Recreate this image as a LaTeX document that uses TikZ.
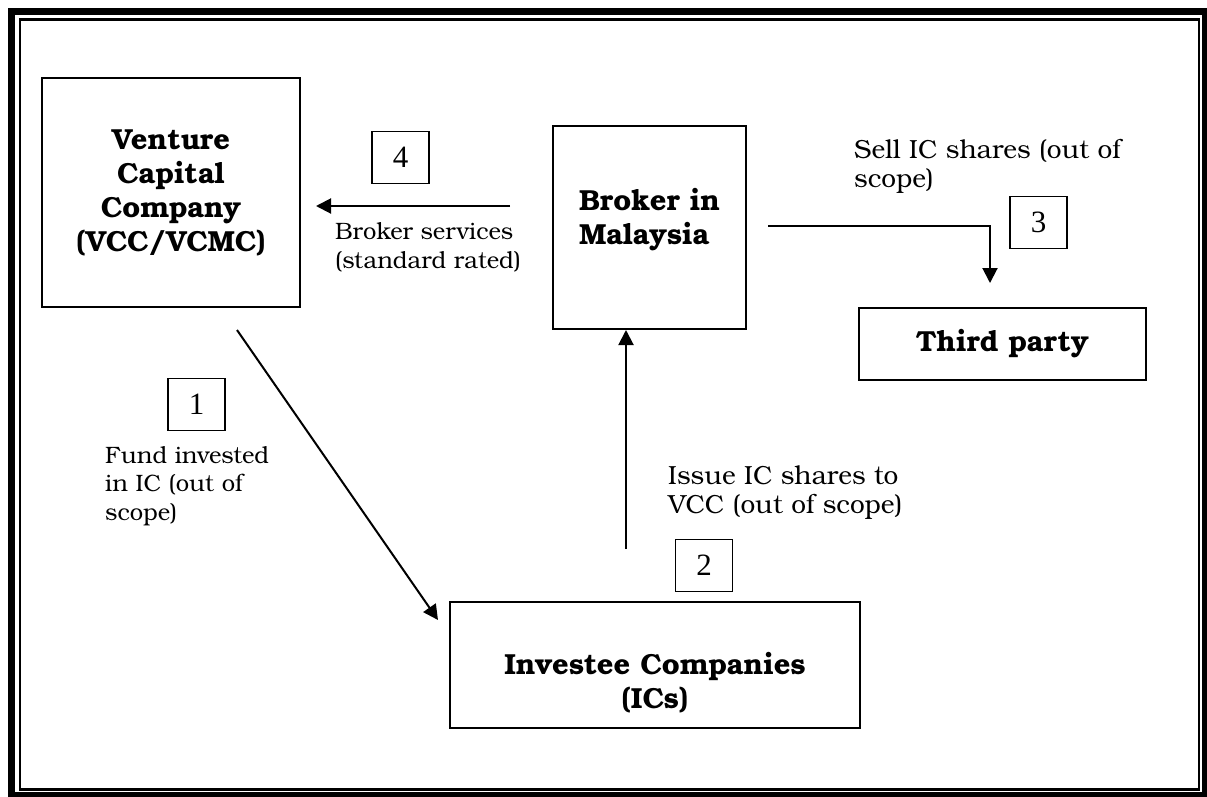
\documentclass[tikz,border=0pt]{standalone}
\usepackage{fontspec}
\setmainfont{texgyrebonum}[Extension=.otf, UprightFont=*-regular, BoldFont=*-bold]
\newfontfamily\numfont{Liberation Serif}
\usetikzlibrary{arrows.meta}

\begin{document}
\begin{tikzpicture}[
    x=1pt, y=-1pt,
    box/.style={rectangle, draw, line width=2pt, align=center, inner sep=0pt,
                font=\fontsize{29}{34}\selectfont\bfseries},
    numbox/.style={rectangle, draw, line width=1.5pt, minimum width=57pt,
                minimum height=52pt, inner sep=0pt, font=\numfont\fontsize{31}{31}\selectfont},
    arrow/.style={-{Triangle[length=15pt, width=15pt]}, line width=2pt},
    note/.style={align=left, anchor=base west, inner sep=0pt,
                font=\fontsize{23.7}{28.5}\selectfont},
    bignote/.style={note, font=\fontsize{26.2}{28.5}\selectfont}
]
\useasboundingbox (0,0) rectangle (1207,796);
% double frame round the page
\draw[line width=7pt] (11.5,11.5) rectangle (1205.5,795.5);
\draw[line width=2.5pt] (20,19.5) rectangle (1199,789.5);

\node[box, minimum width=258pt, minimum height=229pt] (vcc) at (171,192.5)
    {Venture\\Capital\\Company\\(VCC/VCMC)};
\node[box, align=left, minimum width=193pt, minimum height=203pt] (broker) at (649.5,227.5)
    {Broker in\\Malaysia\rule[-22pt]{0pt}{22pt}};
\node[box, minimum width=287pt, minimum height=72pt] (third) at (1002.5,344) {Third party};
\node[box, minimum width=410pt, minimum height=126pt] (ics) at (655,665)
    {\rule{0pt}{58pt}Investee Companies\\(ICs)};

\node[numbox] (n1) at (196.5,404.5) {1};
\node[numbox] (n2) at (704,565.5) {2};
\node[numbox] (n3) at (1038.5,222.5) {3};
\node[numbox] (n4) at (400.5,157.5) {4};

\coordinate (fund start) at (237,330);
\coordinate (fund end) at (438,620);
\coordinate (issue start) at (626,549);
\coordinate (sell start) at (768,226);
\coordinate (sell end) at (990,283);
\coordinate (serv start) at (510,206);
\coordinate (serv end) at (316,206);

\draw[arrow] (fund start) -- (fund end);
\draw[arrow] (issue start) -- (issue start |- broker.south);
\draw[arrow] (sell start) -| (sell end);
\draw[arrow] (serv start) -- (serv end);

% anchor is the baseline of the last line
\node[note] (fundtxt) at (105,520) {Fund invested\\in IC (out of\\scope)};
\node[bignote] (issuetxt) at (668,513) {Issue IC shares to\\VCC (out of scope)};
\node[bignote] (selltxt) at (854,187) {Sell IC shares (out of\\scope)};
\node[note] (servtxt) at (335,268) {Broker services\\(standard rated)};
\end{tikzpicture}
\end{document}
